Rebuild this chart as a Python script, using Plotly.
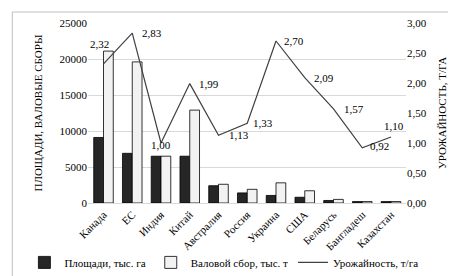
import plotly.graph_objects as go

categories = ["Канада", "ЕС", "Индия", "Китай", "Австралия", "Россия", "Украина", "США", "Беларусь", "Бангладеш", "Казахстан"]
area = [9100, 6900, 6500, 6500, 2400, 1400, 1050, 800, 350, 200, 200]
harvest = [21100, 19600, 6500, 12900, 2600, 1900, 2800, 1700, 500, 200, 200]
yield_ = [2.32, 2.83, 1.00, 1.99, 1.13, 1.33, 2.70, 2.09, 1.57, 0.92, 1.10]
# label offsets (px) for the yield labels
label_dx = [-4, 20, 0, 19, 20, 16, 18, 19, 20, 17, 3]
label_dy = [20, 0, -2, 0, 0, 0, 0, 0, 0, 2, 11]

font = "Liberation Serif"
fig = go.Figure()
fig.add_trace(go.Bar(x=categories, y=area, name="Площади, тыс. га",
                     marker=dict(color="#262626", line=dict(color="#000000", width=0.8))))
fig.add_trace(go.Bar(x=categories, y=harvest, name="Валовой сбор, тыс. т",
                     marker=dict(color="#f2f2f2", line=dict(color="#000000", width=0.8))))
fig.add_trace(go.Scatter(x=categories, y=yield_, name="Урожайность, т/га", yaxis="y2",
                         mode="lines", line=dict(color="#404040", width=1.2)))

annotations = []
for c, v, dx, dy in zip(categories, yield_, label_dx, label_dy):
    annotations.append(dict(x=c, y=v, xref="x", yref="y2", text=f"{v:.2f}".replace(".", ","),
                            showarrow=False, xshift=dx, yshift=dy,
                            font=dict(family=font, size=11, color="#000000")))

fig.update_layout(
    width=456, height=276,
    margin=dict(l=80, r=58, t=15, b=81, autoexpand=False),
    paper_bgcolor="white", plot_bgcolor="white",
    font=dict(family=font, size=11, color="#000000"),
    separators=", ",
    barmode="group", bargap=0.32, bargroupgap=0,
    showlegend=True,
    legend=dict(orientation="h", x=-0.2, xanchor="left", y=-0.33, yanchor="middle",
                bgcolor="rgba(0,0,0,0)",
                font=dict(family=font, size=11), itemwidth=30, tracegroupgap=0),
    xaxis=dict(tickangle=-45, showgrid=False, showline=True, linecolor="#d9d9d9",
               tickfont=dict(family=font, size=11), ticks=""),
    yaxis=dict(range=[0, 25000], dtick=5000, tickformat="d", showgrid=True, gridcolor="#d9d9d9",
               zeroline=False, ticks="", title=dict(text="ПЛОЩАДИ, ВАЛОВЫЕ СБОРЫ", font=dict(size=11), standoff=14)),
    yaxis2=dict(range=[0, 3], dtick=0.5, tickformat=".2f", overlaying="y", side="right",
                showgrid=False, zeroline=False, ticks="",
                title=dict(text="УРОЖАЙНОСТЬ, Т/ГА", font=dict(size=11), standoff=12)),
    annotations=annotations,
    shapes=[dict(type="rect", xref="paper", yref="paper", x0=-0.238, x1=1.166, y0=-0.428, y1=1.061,
                 line=dict(color="#bfbfbf", width=1))],
)

fig.write_html("out.html")
